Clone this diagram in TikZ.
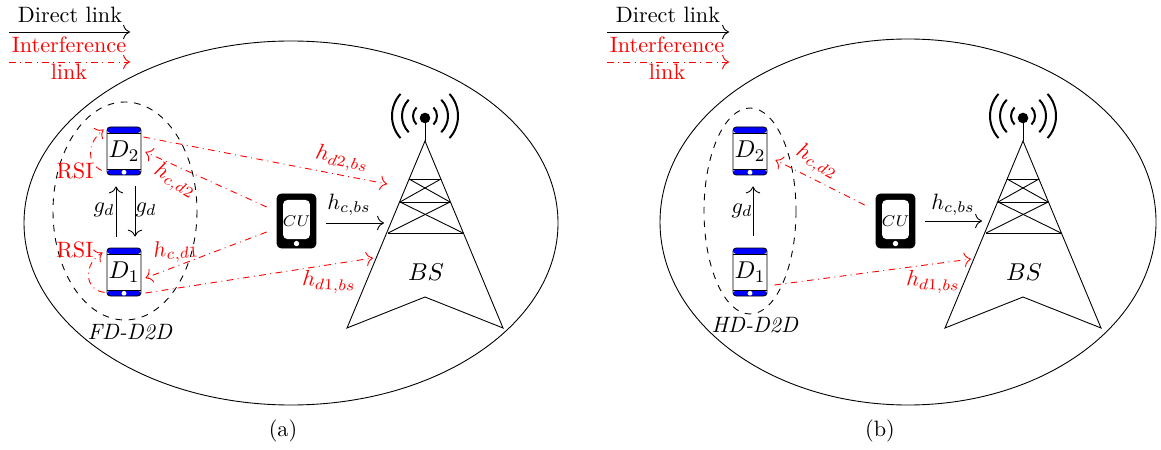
\documentclass[tikz,border=0pt]{standalone}
\usetikzlibrary{calc,arrows.meta}

\begin{document}
\begin{tikzpicture}[x=0.45pt,y=-0.45pt,>={Computer Modern Rightarrow[scale=1.25]}]
    \tikzstyle{phone}=[draw=black, rounded corners=1.5pt, minimum width=15.3pt, minimum height=21.6pt, inner sep=0pt, font=\fontsize{11}{13}\selectfont, path picture={
        \fill[blue] (path picture bounding box.north west) rectangle ([yshift=-2.7pt]path picture bounding box.north east);
        \fill[blue] (path picture bounding box.south west) rectangle ([yshift=2.4pt]path picture bounding box.south east);
        \draw ([yshift=-2.7pt]path picture bounding box.north west) -- ([yshift=-2.7pt]path picture bounding box.north east);
        \draw ([yshift=2.4pt]path picture bounding box.south west) -- ([yshift=2.4pt]path picture bounding box.south east);
        \fill[white] ([yshift=1.2pt]path picture bounding box.south) circle (1.1pt);}]
    \tikzstyle{cu}=[draw=black, fill=black, rounded corners=2pt, minimum width=17.5pt, minimum height=24.3pt, inner sep=0pt, font=\scriptsize, path picture={
        \fill[white] ([xshift=2.7pt,yshift=-2.7pt]path picture bounding box.north west) rectangle ([xshift=-2.7pt,yshift=4pt]path picture bounding box.south east);
        \fill[white] ([yshift=2pt]path picture bounding box.south) circle (1.2pt);}]
    \tikzstyle{interf}=[red, dash dot, ->]
    \tikzstyle{lbl}=[inner sep=0pt]
    \tikzstyle{rlbl}=[inner sep=0pt, text=red]
    \tikzstyle{bslbl}=[inner sep=0pt, font=\fontsize{11}{13}\selectfont]
    \tikzstyle{wave}=[line width=0.9pt]
    \useasboundingbox (0,0) rectangle (1161,450);

    % panel (a)
    \draw (291,223) ellipse (267 and 182);
    \draw[dashed] (125,211) ellipse (72 and 109);
    \node[lbl] (Da) at (70,15) {Direct link};
    \coordinate (Da0) at (9,32);
    \coordinate (Da1) at (130,32);
    \draw[->] (Da0) -- (Da1);
    \node[rlbl, align=center] (Ia) at (69,58) {Interference\\link};
    \coordinate (Ia0) at (9,62);
    \coordinate (Ia1) at (130,62);
    \draw[interf] (Ia0) -- (Ia1);
    \node[phone] (D2a) at (124,151) {$D_2$};
    \node[phone] (D1a) at (124,272) {$D_1$};
    \node[cu] (CUa) at (296.5,221) {$CU$};
    \node[lbl] (FD) at (130,332) {\textit{FD-D2D}};
    \node[rlbl] (RSI2) at (75,171) {RSI};
    \node[rlbl] (RSI1) at (75,250) {RSI};
    \node[bslbl] (BSa) at (426,272) {$BS$};
    \node[lbl] (capa) at (283,431) {(a)};
    % tower (a)
    \coordinate (Ta) at (425,118);
    \coordinate (Wa) at (425,116);
    \draw (425,118) -- (425,141);
    \draw (425,141) -- (347,328) -- (425,297) -- (503,328) -- cycle;
    \draw (409,179) -- (441,179);
    \draw (400,202) -- (450,202);
    \draw (388,233) -- (463,233);
    \draw (409,179) -- (450,202) -- (388,233);
    \draw (441,179) -- (400,202) -- (463,233);
    \fill (Ta) circle (5.3);
    \draw[wave] ($(Wa)+(135:12)$) arc[start angle=135, end angle=225, radius=12];
    \draw[wave] ($(Wa)+(-45:12)$) arc[start angle=-45, end angle=45, radius=12];
    \draw[wave] ($(Wa)+(135:23)$) arc[start angle=135, end angle=225, radius=23];
    \draw[wave] ($(Wa)+(-45:23)$) arc[start angle=-45, end angle=45, radius=23];
    \draw[wave] ($(Wa)+(138:33)$) arc[start angle=138, end angle=222, radius=33];
    \draw[wave] ($(Wa)+(-42:33)$) arc[start angle=-42, end angle=42, radius=33];
    % links (a)
    \coordinate (Bd2a) at (387,184);
    \coordinate (Bca) at (384,223);
    \coordinate (Bd1a) at (373,258);
    \draw[->] ($(D1a.north)+(-8,-11)$) -- ($(D2a.south)+(-8,11)$);
    \draw[->] ($(D2a.south)+(11,11)$) -- ($(D1a.north)+(11,-11)$);
    \node[lbl] (g1a) at (104,210) {$g_d$};
    \node[lbl] (g2a) at (146,210) {$g_d$};
    \draw[->] ($(CUa.east)+(10,2)$) -- (Bca);
    \node[lbl] (hcbsa) at (349,205) {$h_{c,bs}$};
    \draw[interf] ($(D2a.east)+(2,-14)$) -- (Bd2a);
    \node[rlbl, rotate=-11] (hd2a) at (342,159) {$h_{d2,bs}$};
    \draw[interf] ($(CUa.west)+(-10,-14)$) -- ($(D2a.east)+(4,1)$);
    \node[rlbl, rotate=-30] (hcd2a) at (175,181) {$h_{c,d2}$};
    \draw[interf] ($(CUa.west)+(-10,11)$) -- ($(D1a.east)+(4,6)$);
    \node[rlbl, rotate=5] (hcd1a) at (176,251) {$h_{c,d1}$};
    \draw[interf] ($(D1a.east)+(4,21)$) -- (Bd1a);
    \node[rlbl, rotate=-3] (hd1a) at (329,282) {$h_{d1,bs}$};
    \draw[interf] ($(D2a.south west)+(-5,-5)$) .. controls (86,163) and (87,143) .. ($(D2a.north west)+(-3,3)$);
    \draw[interf] ($(D1a.south west)+(-2,-4)$) .. controls (84,290) and (83,264) .. ($(D1a.north west)+(-4,5)$);

    % panel (b)
    \draw (908,222) ellipse (248 and 183);
    \draw[dashed] (750,211) ellipse (46 and 103);
    \node[lbl] (Db) at (668,15) {Direct link};
    \coordinate (Db0) at (607,32);
    \coordinate (Db1) at (729,32);
    \draw[->] (Db0) -- (Db1);
    \node[rlbl, align=center] (Ib) at (667,58) {Interference\\link};
    \coordinate (Ib0) at (607,62);
    \coordinate (Ib1) at (729,62);
    \draw[interf] (Ib0) -- (Ib1);
    \node[phone] (D2b) at (750,151) {$D_2$};
    \node[phone] (D1b) at (750,272) {$D_1$};
    \node[cu] (CUb) at (895.5,221) {$CU$};
    \node[lbl] (HD) at (755,325) {\textit{HD-D2D}};
    \node[bslbl] (BSb) at (1024,272) {$BS$};
    \node[lbl] (capb) at (880,431) {(b)};
    % tower (b)
    \coordinate (Tb) at (1023,118);
    \coordinate (Wb) at (1023,116);
    \draw (1023,118) -- (1023,141);
    \draw (1023,141) -- (945,328) -- (1023,297) -- (1101,328) -- cycle;
    \draw (1007,179) -- (1039,179);
    \draw (998,202) -- (1048,202);
    \draw (986,233) -- (1061,233);
    \draw (1007,179) -- (1048,202) -- (986,233);
    \draw (1039,179) -- (998,202) -- (1061,233);
    \fill (Tb) circle (5.3);
    \draw[wave] ($(Wb)+(135:12)$) arc[start angle=135, end angle=225, radius=12];
    \draw[wave] ($(Wb)+(-45:12)$) arc[start angle=-45, end angle=45, radius=12];
    \draw[wave] ($(Wb)+(135:23)$) arc[start angle=135, end angle=225, radius=23];
    \draw[wave] ($(Wb)+(-45:23)$) arc[start angle=-45, end angle=45, radius=23];
    \draw[wave] ($(Wb)+(138:33)$) arc[start angle=138, end angle=222, radius=33];
    \draw[wave] ($(Wb)+(-42:33)$) arc[start angle=-42, end angle=42, radius=33];
    % links (b)
    \coordinate (Bcb) at (982,221);
    \coordinate (Bd1b) at (971,259);
    \draw[->] ($(D1b.north)+(3,-12)$) -- ($(D2b.south)+(3,11)$);
    \node[lbl] (gb) at (742,211) {$g_d$};
    \draw[->] ($(CUb.east)+(10,0)$) -- (Bcb);
    \node[lbl] (hcbsb) at (953,205) {$h_{c,bs}$};
    \draw[interf] ($(CUb.west)+(-11,-16)$) -- ($(D2b.east)+(8,9)$);
    \node[rlbl, rotate=-30] (hcd2b) at (817,162) {$h_{c,d2}$};
    \draw[interf] ($(D1b.east)+(7,13)$) -- (Bd1b);
    \node[rlbl, rotate=-3] (hd1b) at (933,282) {$h_{d1,bs}$};
\end{tikzpicture}
\end{document}
